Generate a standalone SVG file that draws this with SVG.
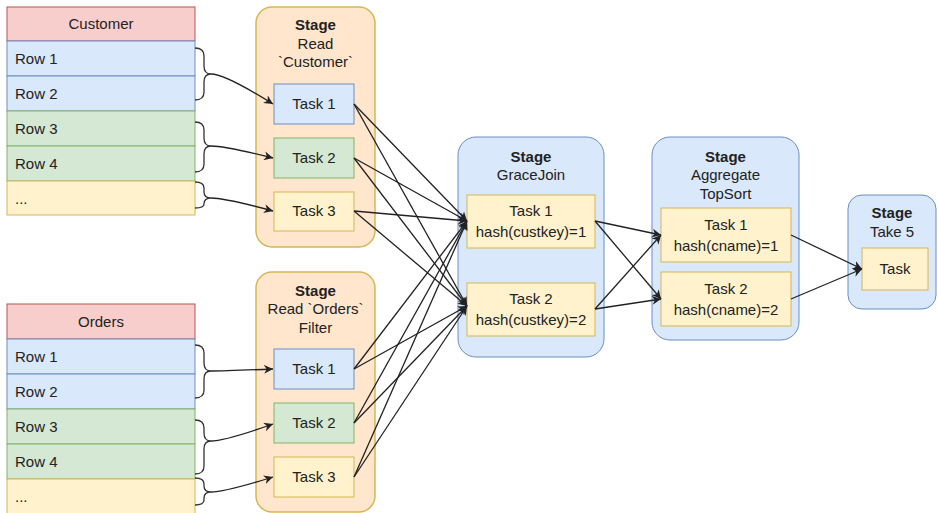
<svg xmlns="http://www.w3.org/2000/svg" width="938" height="513" viewBox="0 0 938 513">
<defs>
<style>
text{font-family:"Liberation Sans",Arial,sans-serif;font-size:15px;fill:#222}
.c{text-anchor:middle}
.b{font-weight:bold}
.hdr{fill:#f8cecc;stroke:#b85450;stroke-width:1}
.blue{fill:#dae8fc;stroke:#6c8ebf;stroke-width:1}
.green{fill:#d5e8d4;stroke:#82b366;stroke-width:1}
.yellow{fill:#fff2cc;stroke:#d6b656;stroke-width:1}
.stageO{fill:#ffe6cc;stroke:#d6b656;stroke-width:1.5}
.stageB{fill:#dae8fc;stroke:#6c8ebf;stroke-width:1}
.brace{fill:none;stroke:#333;stroke-width:1.3}
.edge{fill:none;stroke:#222;stroke-width:1.3;marker-end:url(#arr)}
</style>
<marker id="arr" viewBox="0 0 10 10" refX="10" refY="5" markerWidth="9" markerHeight="9" markerUnits="userSpaceOnUse" orient="auto">
<path d="M0,0 L10,5 L0,10 L3,5 z" fill="#222"/>
</marker>
</defs>

<g id="customer-table">
<rect class="hdr" x="7" y="7" width="188" height="34"/>
<text class="c" x="101" y="29">Customer</text>
<rect class="blue" x="7" y="41" width="188" height="35"/>
<text x="15" y="64">Row 1</text>
<rect class="blue" x="7" y="76" width="188" height="35"/>
<text x="15" y="99">Row 2</text>
<rect class="green" x="7" y="111" width="188" height="35"/>
<text x="15" y="134">Row 3</text>
<rect class="green" x="7" y="146" width="188" height="35"/>
<text x="15" y="169">Row 4</text>
<rect class="yellow" x="7" y="181" width="188" height="34"/>
<text x="15" y="204">...</text>
</g>

<g id="orders-table">
<rect class="hdr" x="7" y="304" width="188" height="35"/>
<text class="c" x="101" y="327">Orders</text>
<rect class="blue" x="7" y="339" width="188" height="35"/>
<text x="15" y="362">Row 1</text>
<rect class="blue" x="7" y="374" width="188" height="35"/>
<text x="15" y="397">Row 2</text>
<rect class="green" x="7" y="409" width="188" height="35"/>
<text x="15" y="432">Row 3</text>
<rect class="green" x="7" y="444" width="188" height="35"/>
<text x="15" y="467">Row 4</text>
<rect class="yellow" x="7" y="479" width="188" height="40"/>
<text x="15" y="502">...</text>
</g>

<g id="stage-read-customer">
<rect class="stageO" x="256" y="7" width="119" height="240" rx="16"/>
<text class="c b" x="315.5" y="30">Stage</text>
<text class="c" x="315.5" y="49">Read</text>
<text class="c" x="315.5" y="67">`Customer`</text>
</g>
<g id="rc-task1"><rect class="blue" x="274" y="84" width="80" height="40"/><text class="c" x="314" y="109">Task 1</text></g>
<g id="rc-task2"><rect class="green" x="274" y="138" width="80" height="40"/><text class="c" x="314" y="163">Task 2</text></g>
<g id="rc-task3"><rect class="yellow" x="274" y="192" width="80" height="39"/><text class="c" x="314" y="216">Task 3</text></g>

<g id="stage-read-orders">
<rect class="stageO" x="256" y="272" width="119" height="240" rx="16"/>
<text class="c b" x="315.5" y="296">Stage</text>
<text class="c" x="315.5" y="314">Read `Orders`</text>
<text class="c" x="315.5" y="333">Filter</text>
</g>
<g id="ro-task1"><rect class="blue" x="274" y="349" width="80" height="40"/><text class="c" x="314" y="374">Task 1</text></g>
<g id="ro-task2"><rect class="green" x="274" y="403" width="80" height="40"/><text class="c" x="314" y="428">Task 2</text></g>
<g id="ro-task3"><rect class="yellow" x="274" y="457" width="80" height="40"/><text class="c" x="314" y="482">Task 3</text></g>

<g id="stage-gracejoin">
<rect class="stageB" x="458" y="137" width="146" height="220" rx="18"/>
<text class="c b" x="531" y="162">Stage</text>
<text class="c" x="531" y="180">GraceJoin</text>
</g>
<g id="gj-task1"><rect class="yellow" x="467" y="195" width="128" height="53"/><text class="c" x="531" y="216">Task 1</text><text class="c" x="531" y="237">hash(custkey)=1</text></g>
<g id="gj-task2"><rect class="yellow" x="467" y="283" width="128" height="53"/><text class="c" x="531" y="304">Task 2</text><text class="c" x="531" y="325">hash(custkey)=2</text></g>

<g id="stage-aggregate">
<rect class="stageB" x="652" y="137" width="147" height="203" rx="18"/>
<text class="c b" x="725.5" y="162">Stage</text>
<text class="c" x="725.5" y="180">Aggregate</text>
<text class="c" x="725.5" y="199">TopSort</text>
</g>
<g id="ag-task1"><rect class="yellow" x="661" y="208" width="130" height="54"/><text class="c" x="726" y="230">Task 1</text><text class="c" x="726" y="251">hash(cname)=1</text></g>
<g id="ag-task2"><rect class="yellow" x="661" y="272" width="130" height="54"/><text class="c" x="726" y="294">Task 2</text><text class="c" x="726" y="315">hash(cname)=2</text></g>

<g id="stage-take5">
<rect class="stageB" x="848" y="195" width="88" height="114" rx="14"/>
<text class="c b" x="892" y="218">Stage</text>
<text class="c" x="892" y="237">Take 5</text>
</g>
<g id="take-task"><rect class="yellow" x="862" y="248" width="66" height="42"/><text class="c" x="895" y="274">Task</text></g>

<g id="connectors">
<path class="brace" d="M195,48 Q204,48 204,56 L204,66 Q204,74 211,74 Q204,74 204,82 L204,92 Q204,100 195,100"/>
<path class="brace" d="M195,122 Q204,122 204,130 L204,138 Q204,146 211,146 Q204,146 204,154 L204,164 Q204,172 195,172"/>
<path class="brace" d="M195,182 Q204,182 204,188 L204,192 Q204,198 211,198 Q204,198 204,204 L204,204 Q204,208 195,208"/>
<path class="brace" d="M195,345 Q204,345 204,353 L204,363 Q204,371 211,371 Q204,371 204,379 L204,390 Q204,398 195,398"/>
<path class="brace" d="M195,420 Q204,420 204,428 L204,433 Q204,441 211,441 Q204,441 204,449 L204,466 Q204,474 195,474"/>
<path class="brace" d="M195,478 Q204,478 204,484 L204,486 Q204,492 211,492 Q204,492 204,498 L204,500 Q204,505 195,505"/>

<path class="edge" d="M211,74 Q225,74 273,104"/>
<path class="edge" d="M211,146 Q225,146 273,158"/>
<path class="edge" d="M211,198 Q225,198 273,211"/>
<path class="edge" d="M211,371 Q225,371 273,369"/>
<path class="edge" d="M211,441 Q225,441 273,424"/>
<path class="edge" d="M211,492 Q225,492 273,477"/>

<path class="edge" d="M354,104 L467,221"/>
<path class="edge" d="M354,104 L467,306"/>
<path class="edge" d="M354,158 L467,221"/>
<path class="edge" d="M354,158 L467,306"/>
<path class="edge" d="M354,211 L467,221"/>
<path class="edge" d="M354,211 L467,306"/>
<path class="edge" d="M354,369 L467,221"/>
<path class="edge" d="M354,369 L467,306"/>
<path class="edge" d="M354,423 L467,221"/>
<path class="edge" d="M354,423 L467,306"/>
<path class="edge" d="M354,477 L467,221"/>
<path class="edge" d="M354,477 L467,306"/>

<path class="edge" d="M595,221 L661,235"/>
<path class="edge" d="M595,221 L661,299"/>
<path class="edge" d="M595,309 L661,235"/>
<path class="edge" d="M595,309 L661,299"/>

<path class="edge" d="M791,235 L862,269"/>
<path class="edge" d="M791,299 L862,269"/>
</g>
</svg>
